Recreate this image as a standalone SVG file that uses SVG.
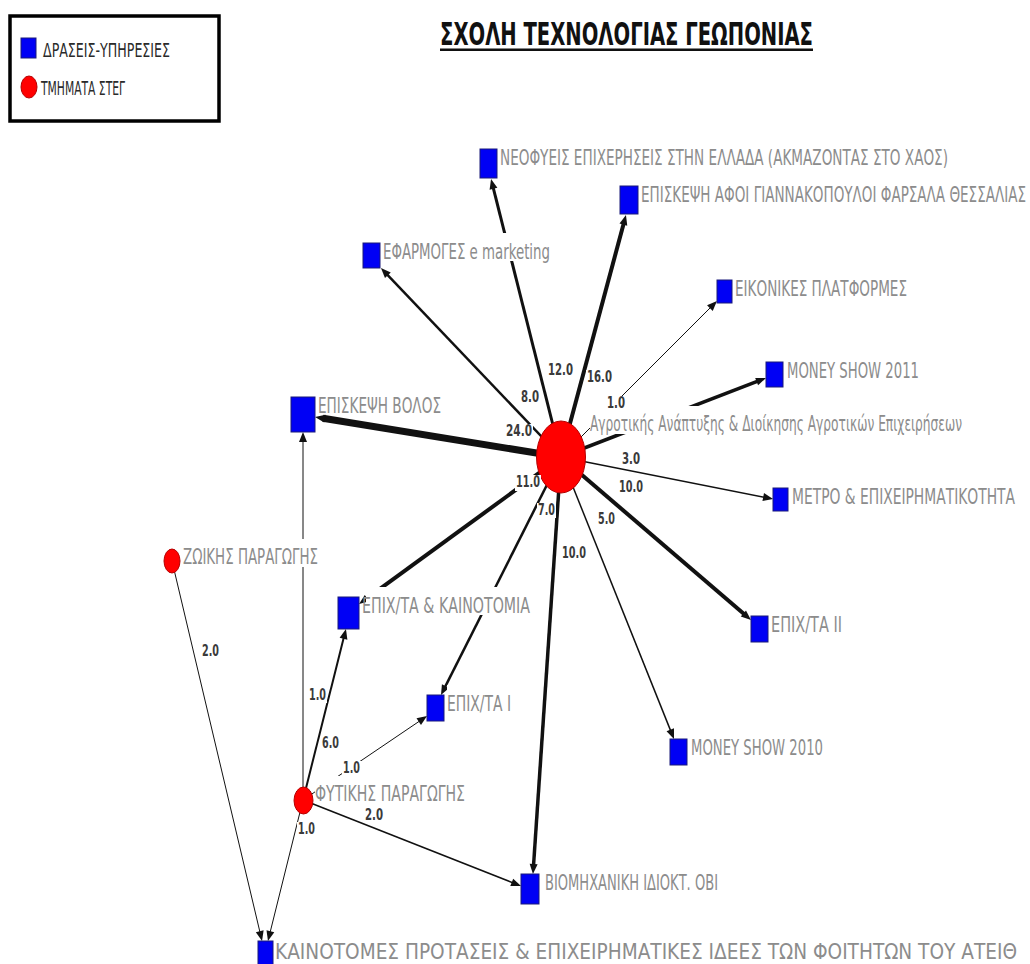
<svg xmlns="http://www.w3.org/2000/svg" width="1030" height="964" viewBox="0 0 1030 964">
  <style>
    .edge { fill: none; stroke: #111; stroke-linecap: butt; marker-end: url(#arrow); }
    .act { fill: #0000f5; stroke: #1a1a7a; stroke-width: 1; }
    .dept { fill: #ff0000; stroke: #b40000; stroke-width: 1; }
    .lb { fill: #ffffff; }
    .nl { font-family: "Liberation Sans Narrow", "DejaVu Sans Condensed", "Liberation Sans", Arial, sans-serif; font-size: 20.5px; fill: #8c8c8c; }
    .el { font-family: "Liberation Sans Narrow", "DejaVu Sans Condensed", "Liberation Sans", Arial, sans-serif; font-size: 15px; font-weight: bold; fill: #3a3a3a; }
    .lg { font-family: "Liberation Sans Narrow", "DejaVu Sans Condensed", "Liberation Sans", Arial, sans-serif; font-size: 20px; fill: #2a2a2a; }
  </style>
  <defs>
    <marker id="arrow" markerUnits="userSpaceOnUse" markerWidth="10" markerHeight="8" refX="2" refY="4" orient="auto" overflow="visible">
      <path d="M0,0 L10,4 L0,8 Z" fill="#111"/>
    </marker>
  </defs>

  <rect width="1030" height="964" fill="#ffffff"/>

  <!-- legend -->
  <g id="legend">
    <rect x="10" y="16" width="209" height="105" fill="#ffffff" stroke="#000" stroke-width="3.5"/>
    <rect class="act" x="21" y="38" width="15" height="20"/>
    <text class="lg" x="43" y="57" textLength="127" lengthAdjust="spacingAndGlyphs">ΔΡΑΣΕΙΣ-ΥΠΗΡΕΣΙΕΣ</text>
    <ellipse class="dept" cx="29" cy="87" rx="8" ry="11"/>
    <text class="lg" x="41" y="95" textLength="84" lengthAdjust="spacingAndGlyphs">ΤΜΗΜΑΤΑ ΣΤΕΓ</text>
  </g>

  <!-- title -->
  <g id="title">
    <text x="440" y="45" font-family="Liberation Sans Narrow, DejaVu Sans Condensed, Liberation Sans, Arial, sans-serif" font-size="31" font-weight="bold" fill="#111" textLength="373" lengthAdjust="spacingAndGlyphs">ΣΧΟΛΗ ΤΕΧΝΟΛΟΓΙΑΣ ΓΕΩΠΟΝΙΑΣ</text>
    <rect x="440" y="48.5" width="373" height="2.5" fill="#111"/>
  </g>

  <!-- connectors -->
  <g id="connectors">
    <path class="edge" stroke-width="3" d="M561,457 L493,186.8"/>
    <path class="edge" stroke-width="4" d="M561,457 L623.9,222.7"/>
    <path class="edge" stroke-width="2.5" d="M561,457 L386.5,273.8"/>
    <path class="edge" stroke-width="1" d="M561,457 L711.3,306.7"/>
    <path class="edge" stroke-width="3.5" d="M561,457 L758.5,380.9"/>
    <path class="edge" stroke-width="7" d="M561,457 L322.9,418.3"/>
    <path class="edge" stroke-width="1.5" d="M561,457 L765.2,497.4"/>
    <path class="edge" stroke-width="4" d="M561,457 L744.9,614.8"/>
    <path class="edge" stroke-width="2.5" d="M561,457 L444.6,687.9"/>
    <path class="edge" stroke-width="4" d="M561,457 L365.5,599.3"/>
    <path class="edge" stroke-width="3.5" d="M561,457 L533.5,866"/>
    <path class="edge" stroke-width="1.5" d="M561,457 L671,731.6"/>
    <path class="edge" stroke-width="1" d="M303,800 L303,440"/>
    <path class="edge" stroke-width="2" d="M303,800 L344,636.8"/>
    <path class="edge" stroke-width="1" d="M303,800 L420.4,720.5"/>
    <path class="edge" stroke-width="1.5" d="M303,800 L513.6,883.1"/>
    <path class="edge" stroke-width="1" d="M303,800 L269.9,933.2"/>
    <path class="edge" stroke-width="1" d="M172,561 L260.2,933.2"/>
  </g>

  <!-- departments -->
  <g id="node-agrotikis">
    <ellipse class="dept" cx="561" cy="457" rx="24.5" ry="36"/>
    <rect class="lb" x="590" y="406" width="374" height="28"/>
    <text class="nl" x="590" y="431" textLength="372" lengthAdjust="spacingAndGlyphs">Αγροτικής Ανάπτυξης &amp; Διοίκησης Αγροτικών Επιχειρήσεων</text>
  </g>
  <g id="node-zoikis">
    <ellipse class="dept" cx="172" cy="561" rx="8" ry="12"/>
    <rect class="lb" x="183" y="539" width="136" height="28"/>
    <text class="nl" x="183" y="564" textLength="135" lengthAdjust="spacingAndGlyphs">ΖΩΙΚΗΣ ΠΑΡΑΓΩΓΗΣ</text>
  </g>
  <g id="node-fytikis">
    <ellipse class="dept" cx="303.5" cy="800.5" rx="9.5" ry="13.5"/>
    <rect class="lb" x="315" y="776" width="151" height="28"/>
    <text class="nl" x="315" y="801" textLength="150" lengthAdjust="spacingAndGlyphs">ΦΥΤΙΚΗΣ ΠΑΡΑΓΩΓΗΣ</text>
  </g>

  <!-- activities -->
  <g id="node-neofyeis">
    <rect class="act" x="480" y="149" width="17" height="29"/>
    <rect class="lb" x="500" y="139" width="449" height="28"/>
    <text class="nl" x="500" y="165" textLength="448" lengthAdjust="spacingAndGlyphs">ΝΕΟΦΥΕΙΣ ΕΠΙΧΕΡΗΣΕΙΣ ΣΤΗΝ ΕΛΛΑΔΑ (ΑΚΜΑΖΟΝΤΑΣ ΣΤΟ ΧΑΟΣ)</text>
  </g>
  <g id="node-afoi">
    <rect class="act" x="620" y="186" width="18" height="28"/>
    <rect class="lb" x="641" y="176" width="387" height="28"/>
    <text class="nl" x="641" y="202" textLength="385" lengthAdjust="spacingAndGlyphs">ΕΠΙΣΚΕΨΗ ΑΦΟΙ ΓΙΑΝΝΑΚΟΠΟΥΛΟΙ ΦΑΡΣΑΛΑ ΘΕΣΣΑΛΙΑΣ</text>
  </g>
  <g id="node-efarmoges">
    <rect class="act" x="363" y="243" width="17" height="25"/>
    <rect class="lb" x="383" y="233" width="168" height="28"/>
    <text class="nl" x="383" y="259" textLength="167" lengthAdjust="spacingAndGlyphs">ΕΦΑΡΜΟΓΕΣ e  marketing</text>
  </g>
  <g id="node-eikonikes">
    <rect class="act" x="717" y="280" width="15" height="23"/>
    <rect class="lb" x="735" y="270" width="173" height="28"/>
    <text class="nl" x="735" y="296" textLength="172" lengthAdjust="spacingAndGlyphs">ΕΙΚΟΝΙΚΕΣ ΠΛΑΤΦΟΡΜΕΣ</text>
  </g>
  <g id="node-money2011">
    <rect class="act" x="766" y="362" width="17" height="25"/>
    <rect class="lb" x="787" y="352" width="133" height="28"/>
    <text class="nl" x="787" y="378" textLength="132" lengthAdjust="spacingAndGlyphs">MONEY SHOW 2011</text>
  </g>
  <g id="node-volos">
    <rect class="act" x="291" y="397" width="24" height="35"/>
    <rect class="lb" x="318" y="387" width="124" height="27"/>
    <text class="nl" x="318" y="413" textLength="123" lengthAdjust="spacingAndGlyphs">ΕΠΙΣΚΕΨΗ ΒΟΛΟΣ</text>
  </g>
  <g id="node-metro">
    <rect class="act" x="773" y="488" width="15" height="23"/>
    <rect class="lb" x="792" y="478" width="224" height="28"/>
    <text class="nl" x="792" y="504" textLength="223" lengthAdjust="spacingAndGlyphs">ΜΕΤΡΟ &amp; ΕΠΙΧΕΙΡΗΜΑΤΙΚΟΤΗΤΑ</text>
  </g>
  <g id="node-epixta2">
    <rect class="act" x="751" y="616" width="17" height="26"/>
    <rect class="lb" x="771" y="606" width="72" height="28"/>
    <text class="nl" x="771" y="632" textLength="71" lengthAdjust="spacingAndGlyphs">ΕΠΙΧ/ΤΑ ΙΙ</text>
  </g>
  <g id="node-epixta1">
    <rect class="act" x="427" y="695" width="17" height="26"/>
    <rect class="lb" x="447" y="685" width="65" height="28"/>
    <text class="nl" x="447" y="711" textLength="64" lengthAdjust="spacingAndGlyphs">ΕΠΙΧ/ΤΑ Ι</text>
  </g>
  <g id="node-kainotomia">
    <rect class="act" x="338" y="597" width="21" height="32"/>
    <rect class="lb" x="366" y="587" width="165" height="28"/>
    <text class="nl" x="362" y="613" textLength="168" lengthAdjust="spacingAndGlyphs">ΕΠΙΧ/ΤΑ &amp; ΚΑΙΝΟΤΟΜΙΑ</text>
  </g>
  <g id="node-viomix">
    <rect class="act" x="521" y="874" width="18" height="30"/>
    <rect class="lb" x="545" y="864" width="174" height="28"/>
    <text class="nl" x="545" y="890" textLength="173" lengthAdjust="spacingAndGlyphs">ΒΙΟΜΗΧΑΝΙΚΗ ΙΔΙΟΚΤ. ΟΒΙ</text>
  </g>
  <g id="node-money2010">
    <rect class="act" x="670" y="739" width="17" height="26"/>
    <rect class="lb" x="691" y="729" width="133" height="28"/>
    <text class="nl" x="691" y="755" textLength="132" lengthAdjust="spacingAndGlyphs">MONEY SHOW 2010</text>
  </g>
  <g id="node-kainotomes">
    <rect class="act" x="258" y="941" width="15" height="26"/>
    <rect class="lb" x="275" y="933" width="743" height="28"/>
    <text class="nl" x="275" y="959" textLength="742" lengthAdjust="spacingAndGlyphs">ΚΑΙΝΟΤΟΜΕΣ ΠΡΟΤΑΣΕΙΣ &amp; ΕΠΙΧΕΙΡΗΜΑΤΙΚΕΣ ΙΔΕΕΣ ΤΩΝ ΦΟΙΤΗΤΩΝ ΤΟΥ ΑΤΕΙΘ</text>
  </g>

  <!-- connector weights -->
  <g id="connector-labels">
    <rect class="lb" x="547" y="363" width="27" height="15"/>
    <text class="el" x="548" y="375" textLength="25" lengthAdjust="spacingAndGlyphs">12.0</text>
    <rect class="lb" x="586" y="370" width="27" height="15"/>
    <text class="el" x="587" y="382" textLength="25" lengthAdjust="spacingAndGlyphs">16.0</text>
    <rect class="lb" x="520" y="390" width="20" height="15"/>
    <text class="el" x="521" y="402" textLength="18" lengthAdjust="spacingAndGlyphs">8.0</text>
    <rect class="lb" x="606" y="396" width="21" height="15"/>
    <text class="el" x="607" y="408" textLength="18" lengthAdjust="spacingAndGlyphs">1.0</text>
    <rect class="lb" x="505" y="424" width="28" height="15"/>
    <text class="el" x="506" y="436" textLength="26" lengthAdjust="spacingAndGlyphs">24.0</text>
    <rect class="lb" x="621" y="452" width="20" height="15"/>
    <text class="el" x="622" y="464" textLength="18" lengthAdjust="spacingAndGlyphs">3.0</text>
    <rect class="lb" x="618" y="480" width="26" height="15"/>
    <text class="el" x="619" y="492" textLength="24" lengthAdjust="spacingAndGlyphs">10.0</text>
    <rect class="lb" x="515" y="475" width="26" height="16"/>
    <text class="el" x="516" y="487" textLength="24" lengthAdjust="spacingAndGlyphs">11.0</text>
    <rect class="lb" x="537" y="503" width="19" height="15"/>
    <text class="el" x="538" y="515" textLength="17" lengthAdjust="spacingAndGlyphs">7.0</text>
    <rect class="lb" x="597" y="512" width="19" height="15"/>
    <text class="el" x="598" y="524" textLength="17" lengthAdjust="spacingAndGlyphs">5.0</text>
    <rect class="lb" x="561" y="546" width="26" height="15"/>
    <text class="el" x="562" y="558" textLength="24" lengthAdjust="spacingAndGlyphs">10.0</text>
    <rect class="lb" x="201" y="644" width="19" height="15"/>
    <text class="el" x="202" y="656" textLength="17" lengthAdjust="spacingAndGlyphs">2.0</text>
    <rect class="lb" x="308" y="688" width="19" height="15"/>
    <text class="el" x="309" y="700" textLength="17" lengthAdjust="spacingAndGlyphs">1.0</text>
    <rect class="lb" x="321" y="736" width="19" height="15"/>
    <text class="el" x="322" y="748" textLength="17" lengthAdjust="spacingAndGlyphs">6.0</text>
    <rect class="lb" x="342" y="761" width="19" height="15"/>
    <text class="el" x="343" y="773" textLength="17" lengthAdjust="spacingAndGlyphs">1.0</text>
    <rect class="lb" x="364" y="808" width="20" height="15"/>
    <text class="el" x="365" y="820" textLength="18" lengthAdjust="spacingAndGlyphs">2.0</text>
    <rect class="lb" x="297" y="822" width="19" height="15"/>
    <text class="el" x="298" y="834" textLength="17" lengthAdjust="spacingAndGlyphs">1.0</text>
  </g>
</svg>
